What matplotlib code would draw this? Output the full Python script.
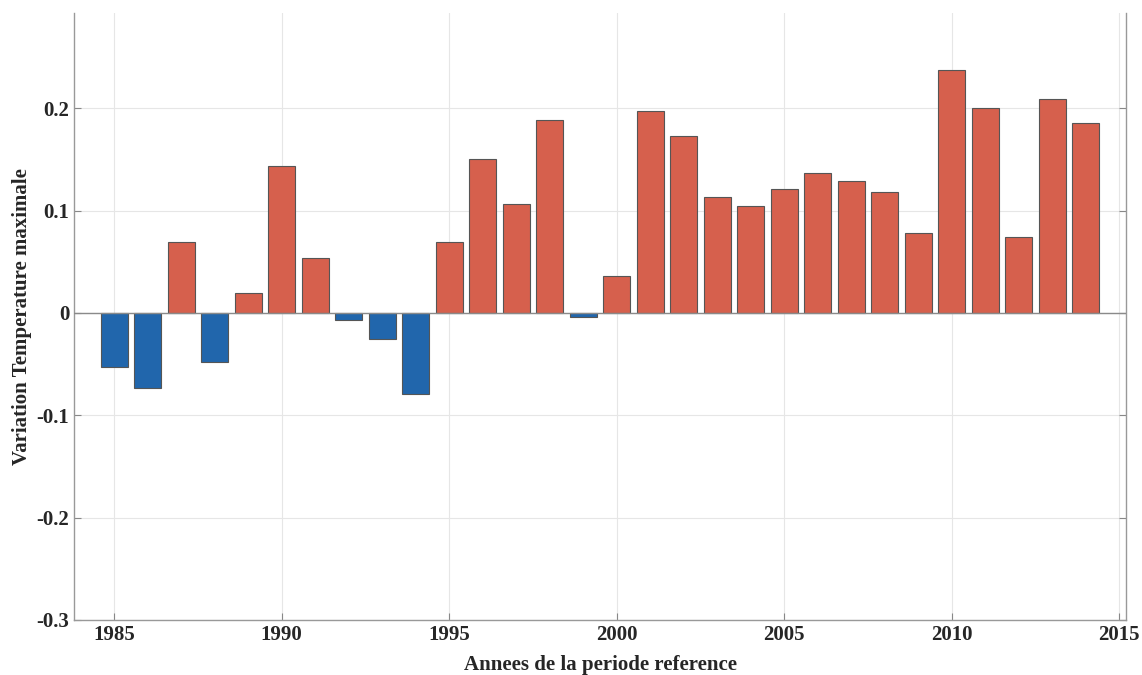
import matplotlib.pyplot as plt
from matplotlib.ticker import FuncFormatter

years = list(range(1985, 2015))
variation = [-0.053, -0.073, 0.069, -0.048, 0.019, 0.144, 0.054, -0.007, -0.025, -0.079,
             0.069, 0.150, 0.106, 0.188, -0.004, 0.036, 0.197, 0.173, 0.113, 0.104,
             0.121, 0.137, 0.129, 0.118, 0.078, 0.237, 0.200, 0.074, 0.209, 0.186]

plt.rcParams['font.family'] = ['Liberation Serif', 'DejaVu Serif']
plt.rcParams['font.weight'] = 'bold'
plt.rcParams['axes.unicode_minus'] = False

fig = plt.figure(figsize=(11.42, 6.75), dpi=100)
ax = fig.add_axes([0.0648, 0.0815, 0.9212, 0.8992])

colors = ['#D6604D' if v >= 0 else '#2166AC' for v in variation]
ax.bar(years, variation, width=0.8, color=colors, edgecolor='#555555', linewidth=0.8, zorder=3)
ax.axhline(0, color='#8a8a8a', linewidth=1.0, zorder=4)

ax.set_xlim(1983.8, 2015.2)
ax.set_ylim(-0.3, 0.293)
ax.set_xticks(range(1985, 2016, 5))
ax.set_yticks([-0.3, -0.2, -0.1, 0, 0.1, 0.2])
ax.yaxis.set_major_formatter(FuncFormatter(lambda v, p: '%g' % round(v, 2)))

ax.grid(True, color='#e6e6e6', linewidth=0.8, zorder=0)
ax.tick_params(direction='in', length=5, color='#888888', labelsize=15, labelcolor='#262626',
               right=True, top=False)
for s in ['left', 'bottom', 'right']:
    ax.spines[s].set_color('#999999')
    ax.spines[s].set_linewidth(1.0)
ax.spines['top'].set_visible(False)

ax.set_xlabel('Annees de la periode reference', fontsize=15, fontweight='bold', color='#262626', labelpad=7)
ax.set_ylabel('Variation Temperature maximale', fontsize=15, fontweight='bold', color='#262626', labelpad=3)

fig.savefig('out.png', dpi=100)
